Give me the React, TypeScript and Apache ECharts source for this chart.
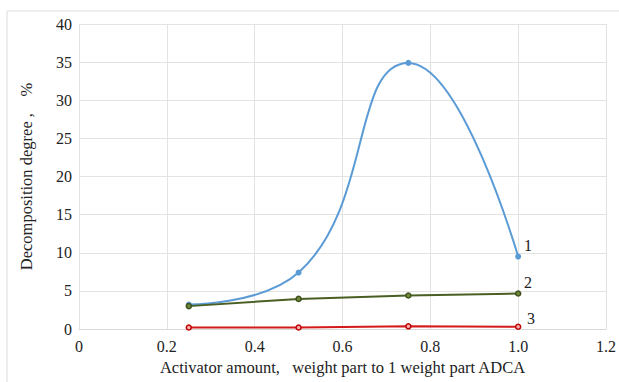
import React, { useEffect, useRef } from "react";
import * as echarts from "echarts";

const xValues = [0.25, 0.5, 0.75, 1.0];
const series1 = [3.2, 7.4, 34.9, 9.5];
const series2 = [3.0, 3.95, 4.4, 4.65];
const series3 = [0.2, 0.2, 0.35, 0.3];
const seriesLabels = ["1", "2", "3"];
const xTitle = "Activator amount,   weight part to 1 weight part ADCA";
const yTitle = "Decomposition degree ,    %";

const FONT = "'Liberation Serif', 'Times New Roman', serif";

export default function App() {
  const ref = useRef<HTMLDivElement>(null);
  useEffect(() => {
    if (!ref.current) return;
    const chart = echarts.init(ref.current, undefined, { renderer: "svg" });
    const pair = (ys: number[]) => xValues.map((x, i) => [x, ys[i]]);
    chart.setOption({
      animation: false,
      backgroundColor: "#ffffff",
      textStyle: { fontFamily: FONT },
      grid: { left: 79, right: 13, top: 24, bottom: 53, containLabel: false },
      xAxis: {
        type: "value",
        min: 0,
        max: 1.2,
        interval: 0.2,
        name: xTitle,
        nameLocation: "middle",
        nameGap: 30,
        nameTextStyle: { fontFamily: FONT, fontSize: 16.5, color: "#222" },
        axisLine: { show: true, lineStyle: { color: "#d9d9d9" } },
        axisTick: { show: false },
        axisLabel: {
          fontFamily: FONT,
          fontSize: 16,
          color: "#222",
          margin: 9,
          formatter: (v: number) => (v === 0 ? "0" : v === 1 ? "1.0" : String(Number(v.toFixed(1)))),
        },
        splitLine: { show: true, lineStyle: { color: "#e3e3e3" } },
      },
      yAxis: {
        type: "value",
        min: 0,
        max: 40,
        interval: 5,
        name: yTitle,
        nameLocation: "middle",
        nameGap: 44,
        nameTextStyle: { fontFamily: FONT, fontSize: 16.5, color: "#222" },
        axisLine: { show: false },
        axisTick: { show: false },
        axisLabel: { fontFamily: FONT, fontSize: 16, color: "#222", margin: 7 },
        splitLine: { show: true, lineStyle: { color: "#e3e3e3" } },
      },
      series: [
        {
          type: "line",
          data: pair(series1),
          smooth: 0.5,
          symbol: "circle",
          symbolSize: 6,
          lineStyle: { color: "#5b9bd5", width: 2 },
          itemStyle: { color: "#5b9bd5" },
          z: 3,
        },
        {
          type: "line",
          data: pair(series2),
          symbol: "circle",
          symbolSize: 5,
          lineStyle: { color: "#4a5f23", width: 2 },
          itemStyle: { color: "#6f8a3a", borderColor: "#3e4f1c", borderWidth: 1.5 },
          z: 4,
        },
        {
          type: "line",
          data: pair(series3),
          symbol: "circle",
          symbolSize: 5,
          lineStyle: { color: "#d41a1a", width: 2 },
          itemStyle: { color: "#f4b0b0", borderColor: "#c00000", borderWidth: 1.5 },
          z: 5,
        },
      ],
      graphic: [
        {
          type: "rect",
          shape: { x: 7, y: 11, width: 700, height: 500 },
          style: { fill: "none", stroke: "#dcdcdc", lineWidth: 1 },
          silent: true,
          z: -1,
        },
        {
          type: "text",
          x: 528,
          y: 245,
          style: { text: seriesLabels[0], font: `16px ${FONT}`, fill: "#222", verticalAlign: "middle", align: "center" },
        },
        {
          type: "text",
          x: 528,
          y: 282,
          style: { text: seriesLabels[1], font: `16px ${FONT}`, fill: "#222", verticalAlign: "middle", align: "center" },
        },
        {
          type: "text",
          x: 531,
          y: 318,
          style: { text: seriesLabels[2], font: `16px ${FONT}`, fill: "#222", verticalAlign: "middle", align: "center" },
        },
      ],
    });
    return () => chart.dispose();
  }, []);
  return <div ref={ref} style={{ width: 619, height: 382, position: "absolute", left: 0, top: 0 }} />;
}
